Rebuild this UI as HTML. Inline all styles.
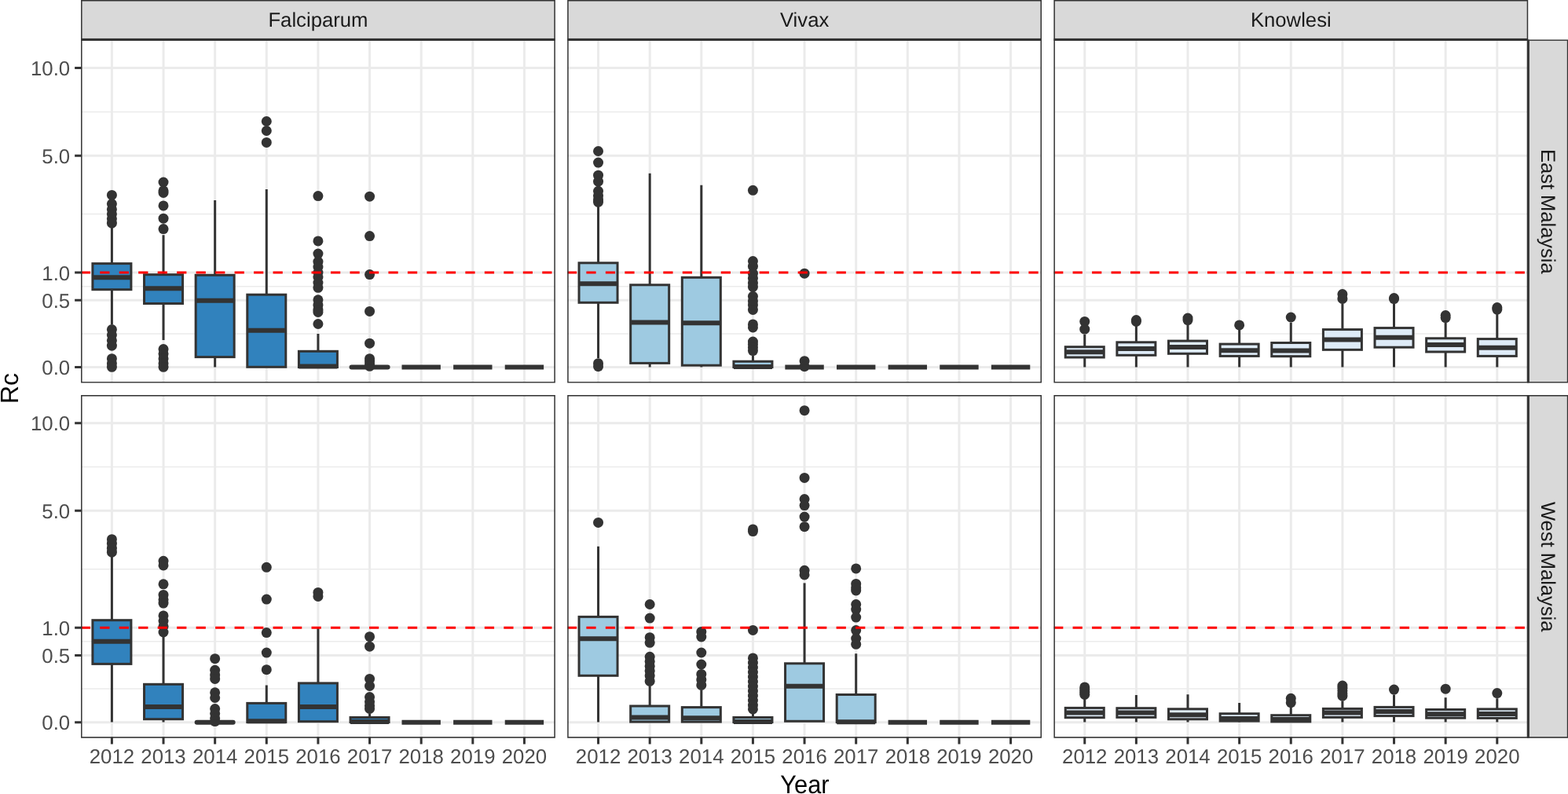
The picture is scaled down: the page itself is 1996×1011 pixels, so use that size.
<!DOCTYPE html>
<html lang="en"><head><meta charset="utf-8"><title>Rc by Year</title>
<style>
html,body{margin:0;padding:0;background:#fff;}
body{width:1996px;height:1011px;overflow:hidden;}
svg{display:block;}
text{font-family:"Liberation Sans",Arial,Helvetica,sans-serif;text-rendering:geometricPrecision;}
.ax{font-size:25.8px;fill:#4D4D4D;}
.st{font-size:25.7px;fill:#1A1A1A;}
.ti{font-size:32px;fill:#000;}
</style></head><body>
<svg width="1996" height="1011" viewBox="0 0 1996 1011">
<rect x="0" y="0" width="1996" height="1011" fill="#FFFFFF"/>
<defs>
<clipPath id="p00"><rect x="103.05" y="50.4" width="603.8" height="437.2"/></clipPath>
<clipPath id="p01"><rect x="722.2" y="50.4" width="603.8" height="437.2"/></clipPath>
<clipPath id="p02"><rect x="1341.4" y="50.4" width="603.8" height="437.2"/></clipPath>
<clipPath id="p10"><rect x="103.05" y="503.05" width="603.8" height="436.6"/></clipPath>
<clipPath id="p11"><rect x="722.2" y="503.05" width="603.8" height="436.6"/></clipPath>
<clipPath id="p12"><rect x="1341.4" y="503.05" width="603.8" height="436.6"/></clipPath>
<clipPath id="s0"><rect x="103.05" y="0" width="603.8" height="50.4"/></clipPath>
<clipPath id="s1"><rect x="722.2" y="0" width="603.8" height="50.4"/></clipPath>
<clipPath id="s2"><rect x="1341.4" y="0" width="603.8" height="50.4"/></clipPath>
<clipPath id="r0"><rect x="1945.2" y="50.4" width="51.1" height="437.2"/></clipPath>
<clipPath id="r1"><rect x="1945.2" y="503.05" width="51.1" height="436.6"/></clipPath>
</defs>
<g clip-path="url(#p00)">
<path d="M103.05 424.91H706.85M103.05 364.69H706.85M103.05 272.61H706.85M103.05 142.38H706.85" stroke="#EBEBEB" stroke-width="1.5" fill="none"/>
<path d="M103.05 467.5H706.85M103.05 382.33H706.85M103.05 347.05H706.85M103.05 198.17H706.85M103.05 86.6H706.85M142.4 50.4V487.6M208.03 50.4V487.6M273.66 50.4V487.6M339.29 50.4V487.6M404.92 50.4V487.6M470.55 50.4V487.6M536.18 50.4V487.6M601.81 50.4V487.6M667.44 50.4V487.6" stroke="#EBEBEB" stroke-width="3" fill="none"/>
<circle cx="142.4" cy="248.4" r="6.5" fill="#333333"/><circle cx="142.4" cy="259.5" r="6.5" fill="#333333"/><circle cx="142.4" cy="266.5" r="6.5" fill="#333333"/><circle cx="142.4" cy="272.5" r="6.5" fill="#333333"/><circle cx="142.4" cy="278.5" r="6.5" fill="#333333"/><circle cx="142.4" cy="284.2" r="6.5" fill="#333333"/><circle cx="142.4" cy="419.5" r="6.5" fill="#333333"/><circle cx="142.4" cy="426.5" r="6.5" fill="#333333"/><circle cx="142.4" cy="433.6" r="6.5" fill="#333333"/><circle cx="142.4" cy="440.2" r="6.5" fill="#333333"/><circle cx="142.4" cy="456.7" r="6.5" fill="#333333"/><circle cx="142.4" cy="462.7" r="6.5" fill="#333333"/><circle cx="142.4" cy="467.3" r="6.5" fill="#333333"/><path d="M142.4 284V335.6M142.4 368.7V413" stroke="#333333" stroke-width="3" fill="none"/><rect x="117.9" y="335.6" width="49" height="33.1" fill="#3182BD" stroke="#333333" stroke-width="3"/><path d="M117.9 353.25H166.9" stroke="#333333" stroke-width="6" fill="none"/>
<circle cx="208.03" cy="232" r="6.5" fill="#333333"/><circle cx="208.03" cy="242.8" r="6.5" fill="#333333"/><circle cx="208.03" cy="245.4" r="6.5" fill="#333333"/><circle cx="208.03" cy="261.9" r="6.5" fill="#333333"/><circle cx="208.03" cy="278.2" r="6.5" fill="#333333"/><circle cx="208.03" cy="291.6" r="6.5" fill="#333333"/><circle cx="208.03" cy="444.6" r="6.5" fill="#333333"/><circle cx="208.03" cy="450.6" r="6.5" fill="#333333"/><circle cx="208.03" cy="456.7" r="6.5" fill="#333333"/><circle cx="208.03" cy="462.7" r="6.5" fill="#333333"/><circle cx="208.03" cy="467.3" r="6.5" fill="#333333"/><path d="M208.03 299.2V349.7M208.03 386.5V433" stroke="#333333" stroke-width="3" fill="none"/><rect x="183.53" y="349.7" width="49" height="36.8" fill="#3182BD" stroke="#333333" stroke-width="3"/><path d="M183.53 367.3H232.53" stroke="#333333" stroke-width="6" fill="none"/>
<path d="M273.66 254.9V350.3M273.66 454.6V467.5" stroke="#333333" stroke-width="3" fill="none"/><rect x="249.16" y="350.3" width="49" height="104.3" fill="#3182BD" stroke="#333333" stroke-width="3"/><path d="M249.16 382.8H298.16" stroke="#333333" stroke-width="6" fill="none"/>
<circle cx="339.29" cy="154.5" r="6.5" fill="#333333"/><circle cx="339.29" cy="166.5" r="6.5" fill="#333333"/><circle cx="339.29" cy="181.4" r="6.5" fill="#333333"/><path d="M339.29 241V375.2M339.29 467.3V467.5" stroke="#333333" stroke-width="3" fill="none"/><rect x="314.79" y="375.2" width="49" height="92.1" fill="#3182BD" stroke="#333333" stroke-width="3"/><path d="M314.79 420.7H363.79" stroke="#333333" stroke-width="6" fill="none"/>
<circle cx="404.92" cy="249.6" r="6.5" fill="#333333"/><circle cx="404.92" cy="306.9" r="6.5" fill="#333333"/><circle cx="404.92" cy="323.1" r="6.5" fill="#333333"/><circle cx="404.92" cy="333.2" r="6.5" fill="#333333"/><circle cx="404.92" cy="340" r="6.5" fill="#333333"/><circle cx="404.92" cy="347" r="6.5" fill="#333333"/><circle cx="404.92" cy="353" r="6.5" fill="#333333"/><circle cx="404.92" cy="360" r="6.5" fill="#333333"/><circle cx="404.92" cy="366.3" r="6.5" fill="#333333"/><circle cx="404.92" cy="381.8" r="6.5" fill="#333333"/><circle cx="404.92" cy="388.4" r="6.5" fill="#333333"/><circle cx="404.92" cy="394.4" r="6.5" fill="#333333"/><circle cx="404.92" cy="397.4" r="6.5" fill="#333333"/><circle cx="404.92" cy="412.5" r="6.5" fill="#333333"/><path d="M404.92 424.9V447.3" stroke="#333333" stroke-width="3" fill="none"/><rect x="380.42" y="447.3" width="49" height="20.2" fill="#3182BD" stroke="#333333" stroke-width="3"/><path d="M380.42 466.5H429.42" stroke="#333333" stroke-width="6" fill="none"/>
<circle cx="470.55" cy="250.2" r="6.5" fill="#333333"/><circle cx="470.55" cy="300.6" r="6.5" fill="#333333"/><circle cx="470.55" cy="349.6" r="6.5" fill="#333333"/><circle cx="470.55" cy="396.4" r="6.5" fill="#333333"/><circle cx="470.55" cy="437.2" r="6.5" fill="#333333"/><circle cx="470.55" cy="456.7" r="6.5" fill="#333333"/><circle cx="470.55" cy="459.8" r="6.5" fill="#333333"/><circle cx="470.55" cy="462.9" r="6.5" fill="#333333"/><circle cx="470.55" cy="466.3" r="6.5" fill="#333333"/><path d="M447.55 467.5H493.55" stroke="#333333" stroke-width="6" stroke-linecap="round" fill="none"/>
<path d="M511.48 467.5H560.88" stroke="#333333" stroke-width="6" fill="none"/>
<path d="M577.11 467.5H626.51" stroke="#333333" stroke-width="6" fill="none"/>
<path d="M642.74 467.5H692.14" stroke="#333333" stroke-width="6" fill="none"/>
<path d="M103.05 347.05H706.85" stroke="#FF0000" stroke-width="3.1" stroke-dasharray="12.24 12.24" stroke-dashoffset="0.3" fill="none"/>
<rect x="103.05" y="50.4" width="603.8" height="437.2" fill="none" stroke="#333333" stroke-width="3"/>
</g>
<g clip-path="url(#p01)">
<path d="M722.2 424.91H1326M722.2 364.69H1326M722.2 272.61H1326M722.2 142.38H1326" stroke="#EBEBEB" stroke-width="1.5" fill="none"/>
<path d="M722.2 467.5H1326M722.2 382.33H1326M722.2 347.05H1326M722.2 198.17H1326M722.2 86.6H1326M761.55 50.4V487.6M827.18 50.4V487.6M892.81 50.4V487.6M958.44 50.4V487.6M1024.07 50.4V487.6M1089.7 50.4V487.6M1155.33 50.4V487.6M1220.96 50.4V487.6M1286.59 50.4V487.6" stroke="#EBEBEB" stroke-width="3" fill="none"/>
<circle cx="761.55" cy="192.5" r="6.5" fill="#333333"/><circle cx="761.55" cy="207.1" r="6.5" fill="#333333"/><circle cx="761.55" cy="223.2" r="6.5" fill="#333333"/><circle cx="761.55" cy="231.2" r="6.5" fill="#333333"/><circle cx="761.55" cy="243.3" r="6.5" fill="#333333"/><circle cx="761.55" cy="249.3" r="6.5" fill="#333333"/><circle cx="761.55" cy="254.3" r="6.5" fill="#333333"/><circle cx="761.55" cy="257.3" r="6.5" fill="#333333"/><circle cx="761.55" cy="462.7" r="6.5" fill="#333333"/><circle cx="761.55" cy="466.7" r="6.5" fill="#333333"/><path d="M761.55 257V334.8M761.55 385.3V456" stroke="#333333" stroke-width="3" fill="none"/><rect x="737.05" y="334.8" width="49" height="50.5" fill="#9ECAE1" stroke="#333333" stroke-width="3"/><path d="M737.05 361.3H786.05" stroke="#333333" stroke-width="6" fill="none"/>
<path d="M827.18 220.8V362.8M827.18 462.4V467.5" stroke="#333333" stroke-width="3" fill="none"/><rect x="802.68" y="362.8" width="49" height="99.6" fill="#9ECAE1" stroke="#333333" stroke-width="3"/><path d="M802.68 410.5H851.68" stroke="#333333" stroke-width="6" fill="none"/>
<path d="M892.81 235.7V353.3M892.81 465.2V467.5" stroke="#333333" stroke-width="3" fill="none"/><rect x="868.31" y="353.3" width="49" height="111.9" fill="#9ECAE1" stroke="#333333" stroke-width="3"/><path d="M868.31 411.3H917.31" stroke="#333333" stroke-width="6" fill="none"/>
<circle cx="958.44" cy="242.3" r="6.5" fill="#333333"/><circle cx="958.44" cy="332.6" r="6.5" fill="#333333"/><circle cx="958.44" cy="339.2" r="6.5" fill="#333333"/><circle cx="958.44" cy="348.2" r="6.5" fill="#333333"/><circle cx="958.44" cy="354.3" r="6.5" fill="#333333"/><circle cx="958.44" cy="360.3" r="6.5" fill="#333333"/><circle cx="958.44" cy="365.3" r="6.5" fill="#333333"/><circle cx="958.44" cy="377.3" r="6.5" fill="#333333"/><circle cx="958.44" cy="383.4" r="6.5" fill="#333333"/><circle cx="958.44" cy="388.4" r="6.5" fill="#333333"/><circle cx="958.44" cy="394.4" r="6.5" fill="#333333"/><circle cx="958.44" cy="412.9" r="6.5" fill="#333333"/><circle cx="958.44" cy="416.9" r="6.5" fill="#333333"/><circle cx="958.44" cy="435" r="6.5" fill="#333333"/><circle cx="958.44" cy="438.6" r="6.5" fill="#333333"/><circle cx="958.44" cy="442.6" r="6.5" fill="#333333"/><circle cx="958.44" cy="446.6" r="6.5" fill="#333333"/><path d="M958.44 453V460.2" stroke="#333333" stroke-width="3" fill="none"/><rect x="933.94" y="460.2" width="49" height="7.3" fill="#9ECAE1" stroke="#333333" stroke-width="3"/><path d="M933.94 467H982.94" stroke="#333333" stroke-width="6" fill="none"/>
<circle cx="1024.07" cy="348.2" r="6.5" fill="#333333"/><circle cx="1024.07" cy="459.7" r="6.5" fill="#333333"/><circle cx="1024.07" cy="466.7" r="6.5" fill="#333333"/><path d="M999.37 467.5H1048.77" stroke="#333333" stroke-width="6" fill="none"/>
<path d="M1065 467.5H1114.4" stroke="#333333" stroke-width="6" fill="none"/>
<path d="M1130.63 467.5H1180.03" stroke="#333333" stroke-width="6" fill="none"/>
<path d="M1196.26 467.5H1245.66" stroke="#333333" stroke-width="6" fill="none"/>
<path d="M1261.89 467.5H1311.29" stroke="#333333" stroke-width="6" fill="none"/>
<path d="M722.2 347.05H1326" stroke="#FF0000" stroke-width="3.1" stroke-dasharray="12.24 12.24" stroke-dashoffset="0.3" fill="none"/>
<rect x="722.2" y="50.4" width="603.8" height="437.2" fill="none" stroke="#333333" stroke-width="3"/>
</g>
<g clip-path="url(#p02)">
<path d="M1341.4 424.91H1945.2M1341.4 364.69H1945.2M1341.4 272.61H1945.2M1341.4 142.38H1945.2" stroke="#EBEBEB" stroke-width="1.5" fill="none"/>
<path d="M1341.4 467.5H1945.2M1341.4 382.33H1945.2M1341.4 347.05H1945.2M1341.4 198.17H1945.2M1341.4 86.6H1945.2M1380.75 50.4V487.6M1446.38 50.4V487.6M1512.01 50.4V487.6M1577.64 50.4V487.6M1643.27 50.4V487.6M1708.9 50.4V487.6M1774.53 50.4V487.6M1840.16 50.4V487.6M1905.79 50.4V487.6" stroke="#EBEBEB" stroke-width="3" fill="none"/>
<circle cx="1380.75" cy="409.4" r="6.5" fill="#333333"/><circle cx="1380.75" cy="419.2" r="6.5" fill="#333333"/><path d="M1380.75 426V441.7M1380.75 455V467.4" stroke="#333333" stroke-width="3" fill="none"/><rect x="1356.25" y="441.7" width="49" height="13.3" fill="#DEEBF7" stroke="#333333" stroke-width="3"/><path d="M1356.25 448.2H1405.25" stroke="#333333" stroke-width="6" fill="none"/>
<circle cx="1446.38" cy="407.5" r="6.5" fill="#333333"/><circle cx="1446.38" cy="409.3" r="6.5" fill="#333333"/><path d="M1446.38 415V435.8M1446.38 452.3V467.4" stroke="#333333" stroke-width="3" fill="none"/><rect x="1421.88" y="435.8" width="49" height="16.5" fill="#DEEBF7" stroke="#333333" stroke-width="3"/><path d="M1421.88 444.05H1470.88" stroke="#333333" stroke-width="6" fill="none"/>
<circle cx="1512.01" cy="405.1" r="6.5" fill="#333333"/><circle cx="1512.01" cy="407.6" r="6.5" fill="#333333"/><path d="M1512.01 413V434.1M1512.01 450.3V467.4" stroke="#333333" stroke-width="3" fill="none"/><rect x="1487.51" y="434.1" width="49" height="16.2" fill="#DEEBF7" stroke="#333333" stroke-width="3"/><path d="M1487.51 442H1536.51" stroke="#333333" stroke-width="6" fill="none"/>
<circle cx="1577.64" cy="413.9" r="6.5" fill="#333333"/><path d="M1577.64 420V438.1M1577.64 453.4V467.4" stroke="#333333" stroke-width="3" fill="none"/><rect x="1553.14" y="438.1" width="49" height="15.3" fill="#DEEBF7" stroke="#333333" stroke-width="3"/><path d="M1553.14 446.2H1602.14" stroke="#333333" stroke-width="6" fill="none"/>
<circle cx="1643.27" cy="404" r="6.5" fill="#333333"/><path d="M1643.27 410.7V436.5M1643.27 453.7V467.4" stroke="#333333" stroke-width="3" fill="none"/><rect x="1618.77" y="436.5" width="49" height="17.2" fill="#DEEBF7" stroke="#333333" stroke-width="3"/><path d="M1618.77 446.4H1667.77" stroke="#333333" stroke-width="6" fill="none"/>
<circle cx="1708.9" cy="374.5" r="6.5" fill="#333333"/><circle cx="1708.9" cy="380.4" r="6.5" fill="#333333"/><path d="M1708.9 386.6V419.6M1708.9 445.35V467.4" stroke="#333333" stroke-width="3" fill="none"/><rect x="1684.4" y="419.6" width="49" height="25.75" fill="#DEEBF7" stroke="#333333" stroke-width="3"/><path d="M1684.4 432.4H1733.4" stroke="#333333" stroke-width="6" fill="none"/>
<circle cx="1774.53" cy="379.6" r="6.5" fill="#333333"/><circle cx="1774.53" cy="380.6" r="6.5" fill="#333333"/><path d="M1774.53 386.6V417.6M1774.53 442.2V467.4" stroke="#333333" stroke-width="3" fill="none"/><rect x="1750.03" y="417.6" width="49" height="24.6" fill="#DEEBF7" stroke="#333333" stroke-width="3"/><path d="M1750.03 429.8H1799.03" stroke="#333333" stroke-width="6" fill="none"/>
<circle cx="1840.16" cy="401.6" r="6.5" fill="#333333"/><circle cx="1840.16" cy="404.6" r="6.5" fill="#333333"/><path d="M1840.16 410.7V430.8M1840.16 448V467.4" stroke="#333333" stroke-width="3" fill="none"/><rect x="1815.66" y="430.8" width="49" height="17.2" fill="#DEEBF7" stroke="#333333" stroke-width="3"/><path d="M1815.66 439.1H1864.66" stroke="#333333" stroke-width="6" fill="none"/>
<circle cx="1905.79" cy="391.5" r="6.5" fill="#333333"/><circle cx="1905.79" cy="394.1" r="6.5" fill="#333333"/><path d="M1905.79 399.8V431.6M1905.79 453.4V467.4" stroke="#333333" stroke-width="3" fill="none"/><rect x="1881.29" y="431.6" width="49" height="21.8" fill="#DEEBF7" stroke="#333333" stroke-width="3"/><path d="M1881.29 442.8H1930.29" stroke="#333333" stroke-width="6" fill="none"/>
<path d="M1341.4 347.05H1945.2" stroke="#FF0000" stroke-width="3.1" stroke-dasharray="12.24 12.24" stroke-dashoffset="0.3" fill="none"/>
<rect x="1341.4" y="50.4" width="603.8" height="437.2" fill="none" stroke="#333333" stroke-width="3"/>
</g>
<g clip-path="url(#p10)">
<path d="M103.05 877.06H706.85M103.05 816.84H706.85M103.05 724.76H706.85M103.05 594.53H706.85" stroke="#EBEBEB" stroke-width="1.5" fill="none"/>
<path d="M103.05 919.65H706.85M103.05 834.48H706.85M103.05 799.2H706.85M103.05 650.32H706.85M103.05 538.75H706.85M142.4 503.05V939.65M208.03 503.05V939.65M273.66 503.05V939.65M339.29 503.05V939.65M404.92 503.05V939.65M470.55 503.05V939.65M536.18 503.05V939.65M601.81 503.05V939.65M667.44 503.05V939.65" stroke="#EBEBEB" stroke-width="3" fill="none"/>
<circle cx="142.4" cy="686.7" r="6.5" fill="#333333"/><circle cx="142.4" cy="692.2" r="6.5" fill="#333333"/><circle cx="142.4" cy="698.2" r="6.5" fill="#333333"/><circle cx="142.4" cy="703.2" r="6.5" fill="#333333"/><path d="M142.4 703V789.7M142.4 845.4V919.4" stroke="#333333" stroke-width="3" fill="none"/><rect x="117.9" y="789.7" width="49" height="55.7" fill="#3182BD" stroke="#333333" stroke-width="3"/><path d="M117.9 816.8H166.9" stroke="#333333" stroke-width="6" fill="none"/>
<circle cx="208.03" cy="714.3" r="6.5" fill="#333333"/><circle cx="208.03" cy="719.9" r="6.5" fill="#333333"/><circle cx="208.03" cy="743.8" r="6.5" fill="#333333"/><circle cx="208.03" cy="757.4" r="6.5" fill="#333333"/><circle cx="208.03" cy="763.5" r="6.5" fill="#333333"/><circle cx="208.03" cy="768.1" r="6.5" fill="#333333"/><circle cx="208.03" cy="783.9" r="6.5" fill="#333333"/><circle cx="208.03" cy="790.6" r="6.5" fill="#333333"/><circle cx="208.03" cy="797.6" r="6.5" fill="#333333"/><circle cx="208.03" cy="805" r="6.5" fill="#333333"/><path d="M208.03 805V871.3M208.03 915.7V919.4" stroke="#333333" stroke-width="3" fill="none"/><rect x="183.53" y="871.3" width="49" height="44.4" fill="#3182BD" stroke="#333333" stroke-width="3"/><path d="M183.53 899.9H232.53" stroke="#333333" stroke-width="6" fill="none"/>
<circle cx="273.66" cy="838.7" r="6.5" fill="#333333"/><circle cx="273.66" cy="853.3" r="6.5" fill="#333333"/><circle cx="273.66" cy="859.4" r="6.5" fill="#333333"/><circle cx="273.66" cy="864.4" r="6.5" fill="#333333"/><circle cx="273.66" cy="881.8" r="6.5" fill="#333333"/><circle cx="273.66" cy="888.5" r="6.5" fill="#333333"/><circle cx="273.66" cy="902.5" r="6.5" fill="#333333"/><circle cx="273.66" cy="908.6" r="6.5" fill="#333333"/><circle cx="273.66" cy="914.6" r="6.5" fill="#333333"/><circle cx="273.66" cy="918.6" r="6.5" fill="#333333"/><path d="M250.66 919.65H296.66" stroke="#333333" stroke-width="6" stroke-linecap="round" fill="none"/>
<circle cx="339.29" cy="722.3" r="6.5" fill="#333333"/><circle cx="339.29" cy="763.05" r="6.5" fill="#333333"/><circle cx="339.29" cy="805.6" r="6.5" fill="#333333"/><circle cx="339.29" cy="831.1" r="6.5" fill="#333333"/><circle cx="339.29" cy="852.7" r="6.5" fill="#333333"/><path d="M339.29 872.4V895.4" stroke="#333333" stroke-width="3" fill="none"/><rect x="314.79" y="895.4" width="49" height="24.2" fill="#3182BD" stroke="#333333" stroke-width="3"/><path d="M314.79 918.3H363.79" stroke="#333333" stroke-width="6" fill="none"/>
<circle cx="404.92" cy="754.4" r="6.5" fill="#333333"/><circle cx="404.92" cy="759.4" r="6.5" fill="#333333"/><path d="M404.92 799.4V869.9" stroke="#333333" stroke-width="3" fill="none"/><rect x="380.42" y="869.9" width="49" height="48.8" fill="#3182BD" stroke="#333333" stroke-width="3"/><path d="M380.42 900.1H429.42" stroke="#333333" stroke-width="6" fill="none"/>
<circle cx="470.55" cy="810.7" r="6.5" fill="#333333"/><circle cx="470.55" cy="823.2" r="6.5" fill="#333333"/><circle cx="470.55" cy="864.4" r="6.5" fill="#333333"/><circle cx="470.55" cy="873.4" r="6.5" fill="#333333"/><circle cx="470.55" cy="887.5" r="6.5" fill="#333333"/><circle cx="470.55" cy="893.5" r="6.5" fill="#333333"/><circle cx="470.55" cy="898.5" r="6.5" fill="#333333"/><circle cx="470.55" cy="902.5" r="6.5" fill="#333333"/><path d="M470.55 908.5V913.5" stroke="#333333" stroke-width="3" fill="none"/><rect x="446.05" y="913.5" width="49" height="6.1" fill="#3182BD" stroke="#333333" stroke-width="3"/><path d="M446.05 919H495.05" stroke="#333333" stroke-width="6" fill="none"/>
<path d="M511.48 919.65H560.88" stroke="#333333" stroke-width="6" fill="none"/>
<path d="M577.11 919.65H626.51" stroke="#333333" stroke-width="6" fill="none"/>
<path d="M642.74 919.65H692.14" stroke="#333333" stroke-width="6" fill="none"/>
<path d="M103.05 799.2H706.85" stroke="#FF0000" stroke-width="3.1" stroke-dasharray="12.24 12.24" stroke-dashoffset="0.3" fill="none"/>
<rect x="103.05" y="503.05" width="603.8" height="436.6" fill="none" stroke="#333333" stroke-width="3"/>
</g>
<g clip-path="url(#p11)">
<path d="M722.2 877.06H1326M722.2 816.84H1326M722.2 724.76H1326M722.2 594.53H1326" stroke="#EBEBEB" stroke-width="1.5" fill="none"/>
<path d="M722.2 919.65H1326M722.2 834.48H1326M722.2 799.2H1326M722.2 650.32H1326M722.2 538.75H1326M761.55 503.05V939.65M827.18 503.05V939.65M892.81 503.05V939.65M958.44 503.05V939.65M1024.07 503.05V939.65M1089.7 503.05V939.65M1155.33 503.05V939.65M1220.96 503.05V939.65M1286.59 503.05V939.65" stroke="#EBEBEB" stroke-width="3" fill="none"/>
<circle cx="761.55" cy="665.4" r="6.5" fill="#333333"/><path d="M761.55 695.8V785.4M761.55 860.3V919.4" stroke="#333333" stroke-width="3" fill="none"/><rect x="737.05" y="785.4" width="49" height="74.9" fill="#9ECAE1" stroke="#333333" stroke-width="3"/><path d="M737.05 813.2H786.05" stroke="#333333" stroke-width="6" fill="none"/>
<circle cx="827.18" cy="769.5" r="6.5" fill="#333333"/><circle cx="827.18" cy="787.1" r="6.5" fill="#333333"/><circle cx="827.18" cy="811.7" r="6.5" fill="#333333"/><circle cx="827.18" cy="818.3" r="6.5" fill="#333333"/><circle cx="827.18" cy="836.3" r="6.5" fill="#333333"/><circle cx="827.18" cy="842.3" r="6.5" fill="#333333"/><circle cx="827.18" cy="848.3" r="6.5" fill="#333333"/><circle cx="827.18" cy="854.3" r="6.5" fill="#333333"/><circle cx="827.18" cy="860.4" r="6.5" fill="#333333"/><circle cx="827.18" cy="867.4" r="6.5" fill="#333333"/><path d="M827.18 873.4V899" stroke="#333333" stroke-width="3" fill="none"/><rect x="802.68" y="899" width="49" height="20.1" fill="#9ECAE1" stroke="#333333" stroke-width="3"/><path d="M802.68 913.6H851.68" stroke="#333333" stroke-width="6" fill="none"/>
<circle cx="892.81" cy="804.4" r="6.5" fill="#333333"/><circle cx="892.81" cy="811" r="6.5" fill="#333333"/><circle cx="892.81" cy="831" r="6.5" fill="#333333"/><circle cx="892.81" cy="846" r="6.5" fill="#333333"/><circle cx="892.81" cy="858.4" r="6.5" fill="#333333"/><circle cx="892.81" cy="865.4" r="6.5" fill="#333333"/><circle cx="892.81" cy="872.4" r="6.5" fill="#333333"/><path d="M892.81 878.4V900.6" stroke="#333333" stroke-width="3" fill="none"/><rect x="868.31" y="900.6" width="49" height="18.5" fill="#9ECAE1" stroke="#333333" stroke-width="3"/><path d="M868.31 914.2H917.31" stroke="#333333" stroke-width="6" fill="none"/>
<circle cx="958.44" cy="673.9" r="6.5" fill="#333333"/><circle cx="958.44" cy="676.6" r="6.5" fill="#333333"/><circle cx="958.44" cy="802.4" r="6.5" fill="#333333"/><circle cx="958.44" cy="837.9" r="6.5" fill="#333333"/><circle cx="958.44" cy="844" r="6.5" fill="#333333"/><circle cx="958.44" cy="850" r="6.5" fill="#333333"/><circle cx="958.44" cy="856" r="6.5" fill="#333333"/><circle cx="958.44" cy="862" r="6.5" fill="#333333"/><circle cx="958.44" cy="868" r="6.5" fill="#333333"/><circle cx="958.44" cy="874" r="6.5" fill="#333333"/><circle cx="958.44" cy="880" r="6.5" fill="#333333"/><circle cx="958.44" cy="886" r="6.5" fill="#333333"/><circle cx="958.44" cy="892" r="6.5" fill="#333333"/><circle cx="958.44" cy="898" r="6.5" fill="#333333"/><circle cx="958.44" cy="902.9" r="6.5" fill="#333333"/><path d="M958.44 905V913.5" stroke="#333333" stroke-width="3" fill="none"/><rect x="933.94" y="913.5" width="49" height="6.1" fill="#9ECAE1" stroke="#333333" stroke-width="3"/><path d="M933.94 919H982.94" stroke="#333333" stroke-width="6" fill="none"/>
<circle cx="1024.07" cy="522.7" r="6.5" fill="#333333"/><circle cx="1024.07" cy="608.4" r="6.5" fill="#333333"/><circle cx="1024.07" cy="635.5" r="6.5" fill="#333333"/><circle cx="1024.07" cy="643.6" r="6.5" fill="#333333"/><circle cx="1024.07" cy="658.1" r="6.5" fill="#333333"/><circle cx="1024.07" cy="670.7" r="6.5" fill="#333333"/><circle cx="1024.07" cy="726.3" r="6.5" fill="#333333"/><circle cx="1024.07" cy="731.9" r="6.5" fill="#333333"/><path d="M1024.07 742.4V844.8" stroke="#333333" stroke-width="3" fill="none"/><rect x="999.57" y="844.8" width="49" height="73.5" fill="#9ECAE1" stroke="#333333" stroke-width="3"/><path d="M999.57 873.8H1048.57" stroke="#333333" stroke-width="6" fill="none"/>
<circle cx="1089.7" cy="723.9" r="6.5" fill="#333333"/><circle cx="1089.7" cy="743.4" r="6.5" fill="#333333"/><circle cx="1089.7" cy="748.4" r="6.5" fill="#333333"/><circle cx="1089.7" cy="752" r="6.5" fill="#333333"/><circle cx="1089.7" cy="769.5" r="6.5" fill="#333333"/><circle cx="1089.7" cy="776.1" r="6.5" fill="#333333"/><circle cx="1089.7" cy="786.1" r="6.5" fill="#333333"/><circle cx="1089.7" cy="802.6" r="6.5" fill="#333333"/><circle cx="1089.7" cy="813" r="6.5" fill="#333333"/><circle cx="1089.7" cy="820.3" r="6.5" fill="#333333"/><path d="M1089.7 832.2V884.5" stroke="#333333" stroke-width="3" fill="none"/><rect x="1065.2" y="884.5" width="49" height="35.1" fill="#9ECAE1" stroke="#333333" stroke-width="3"/><path d="M1065.2 919.2H1114.2" stroke="#333333" stroke-width="6" fill="none"/>
<path d="M1130.63 919.65H1180.03" stroke="#333333" stroke-width="6" fill="none"/>
<path d="M1196.26 919.65H1245.66" stroke="#333333" stroke-width="6" fill="none"/>
<path d="M1261.89 919.65H1311.29" stroke="#333333" stroke-width="6" fill="none"/>
<path d="M722.2 799.2H1326" stroke="#FF0000" stroke-width="3.1" stroke-dasharray="12.24 12.24" stroke-dashoffset="0.3" fill="none"/>
<rect x="722.2" y="503.05" width="603.8" height="436.6" fill="none" stroke="#333333" stroke-width="3"/>
</g>
<g clip-path="url(#p12)">
<path d="M1341.4 877.06H1945.2M1341.4 816.84H1945.2M1341.4 724.76H1945.2M1341.4 594.53H1945.2" stroke="#EBEBEB" stroke-width="1.5" fill="none"/>
<path d="M1341.4 919.65H1945.2M1341.4 834.48H1945.2M1341.4 799.2H1945.2M1341.4 650.32H1945.2M1341.4 538.75H1945.2M1380.75 503.05V939.65M1446.38 503.05V939.65M1512.01 503.05V939.65M1577.64 503.05V939.65M1643.27 503.05V939.65M1708.9 503.05V939.65M1774.53 503.05V939.65M1840.16 503.05V939.65M1905.79 503.05V939.65" stroke="#EBEBEB" stroke-width="3" fill="none"/>
<circle cx="1380.75" cy="874.9" r="6.5" fill="#333333"/><circle cx="1380.75" cy="878" r="6.5" fill="#333333"/><circle cx="1380.75" cy="881.2" r="6.5" fill="#333333"/><circle cx="1380.75" cy="884.3" r="6.5" fill="#333333"/><path d="M1380.75 889.3V901.4M1380.75 913.7V919.6" stroke="#333333" stroke-width="3" fill="none"/><rect x="1356.25" y="901.4" width="49" height="12.3" fill="#DEEBF7" stroke="#333333" stroke-width="3"/><path d="M1356.25 907.6H1405.25" stroke="#333333" stroke-width="6" fill="none"/>
<path d="M1446.38 885.1V901.7M1446.38 913.4V919.6" stroke="#333333" stroke-width="3" fill="none"/><rect x="1421.88" y="901.7" width="49" height="11.7" fill="#DEEBF7" stroke="#333333" stroke-width="3"/><path d="M1421.88 907.6H1470.88" stroke="#333333" stroke-width="6" fill="none"/>
<path d="M1512.01 884.3V902.8M1512.01 915.8V919.6" stroke="#333333" stroke-width="3" fill="none"/><rect x="1487.51" y="902.8" width="49" height="13" fill="#DEEBF7" stroke="#333333" stroke-width="3"/><path d="M1487.51 910.3H1536.51" stroke="#333333" stroke-width="6" fill="none"/>
<path d="M1577.64 895V908.7M1577.64 918.1V919.6" stroke="#333333" stroke-width="3" fill="none"/><rect x="1553.14" y="908.7" width="49" height="9.4" fill="#DEEBF7" stroke="#333333" stroke-width="3"/><path d="M1553.14 914.9H1602.14" stroke="#333333" stroke-width="6" fill="none"/>
<circle cx="1643.27" cy="889.3" r="6.5" fill="#333333"/><circle cx="1643.27" cy="894.7" r="6.5" fill="#333333"/><path d="M1643.27 901V910.7M1643.27 918.9V919.6" stroke="#333333" stroke-width="3" fill="none"/><rect x="1618.77" y="910.7" width="49" height="8.2" fill="#DEEBF7" stroke="#333333" stroke-width="3"/><path d="M1618.77 916H1667.77" stroke="#333333" stroke-width="6" fill="none"/>
<circle cx="1708.9" cy="873" r="6.5" fill="#333333"/><circle cx="1708.9" cy="876.2" r="6.5" fill="#333333"/><circle cx="1708.9" cy="879.5" r="6.5" fill="#333333"/><circle cx="1708.9" cy="882.8" r="6.5" fill="#333333"/><circle cx="1708.9" cy="886.2" r="6.5" fill="#333333"/><path d="M1708.9 892.4V902.4M1708.9 913.4V919.6" stroke="#333333" stroke-width="3" fill="none"/><rect x="1684.4" y="902.4" width="49" height="11" fill="#DEEBF7" stroke="#333333" stroke-width="3"/><path d="M1684.4 907.6H1733.4" stroke="#333333" stroke-width="6" fill="none"/>
<circle cx="1774.53" cy="878.1" r="6.5" fill="#333333"/><path d="M1774.53 884.6V900.4M1774.53 911.6V919.6" stroke="#333333" stroke-width="3" fill="none"/><rect x="1750.03" y="900.4" width="49" height="11.2" fill="#DEEBF7" stroke="#333333" stroke-width="3"/><path d="M1750.03 905.9H1799.03" stroke="#333333" stroke-width="6" fill="none"/>
<circle cx="1840.16" cy="877.2" r="6.5" fill="#333333"/><path d="M1840.16 888.2V903.5M1840.16 914.2V919.6" stroke="#333333" stroke-width="3" fill="none"/><rect x="1815.66" y="903.5" width="49" height="10.7" fill="#DEEBF7" stroke="#333333" stroke-width="3"/><path d="M1815.66 909.2H1864.66" stroke="#333333" stroke-width="6" fill="none"/>
<circle cx="1905.79" cy="882.6" r="6.5" fill="#333333"/><path d="M1905.79 889.3V902.9M1905.79 914.4V919.6" stroke="#333333" stroke-width="3" fill="none"/><rect x="1881.29" y="902.9" width="49" height="11.5" fill="#DEEBF7" stroke="#333333" stroke-width="3"/><path d="M1881.29 909H1930.29" stroke="#333333" stroke-width="6" fill="none"/>
<path d="M1341.4 799.2H1945.2" stroke="#FF0000" stroke-width="3.1" stroke-dasharray="12.24 12.24" stroke-dashoffset="0.3" fill="none"/>
<rect x="1341.4" y="503.05" width="603.8" height="436.6" fill="none" stroke="#333333" stroke-width="3"/>
</g>
<g clip-path="url(#s0)"><rect x="103.05" y="0" width="603.8" height="50.4" fill="#D9D9D9" stroke="#333333" stroke-width="3"/></g>
<path d="M103.05 50.45H706.85" stroke="#333333" stroke-width="2.6" fill="none"/>
<text class="st" x="404.95" y="34.15" text-anchor="middle">Falciparum</text>
<g clip-path="url(#s1)"><rect x="722.2" y="0" width="603.8" height="50.4" fill="#D9D9D9" stroke="#333333" stroke-width="3"/></g>
<path d="M722.2 50.45H1326" stroke="#333333" stroke-width="2.6" fill="none"/>
<text class="st" x="1024.1" y="34.15" text-anchor="middle">Vivax</text>
<g clip-path="url(#s2)"><rect x="1341.4" y="0" width="603.8" height="50.4" fill="#D9D9D9" stroke="#333333" stroke-width="3"/></g>
<path d="M1341.4 50.45H1945.2" stroke="#333333" stroke-width="2.6" fill="none"/>
<text class="st" x="1643.3" y="34.15" text-anchor="middle">Knowlesi</text>
<g clip-path="url(#r0)"><rect x="1945.2" y="50.4" width="51.1" height="437.2" fill="#D9D9D9" stroke="#333333" stroke-width="3"/></g>
<path d="M1945.3 50.4V487.6" stroke="#333333" stroke-width="2.6" fill="none"/>
<text class="st" style="font-size:25.5px" transform="translate(1961.8 269.3) rotate(90)" text-anchor="middle">East Malaysia</text>
<g clip-path="url(#r1)"><rect x="1945.2" y="503.05" width="51.1" height="436.6" fill="#D9D9D9" stroke="#333333" stroke-width="3"/></g>
<path d="M1945.3 503.05V939.65" stroke="#333333" stroke-width="2.6" fill="none"/>
<text class="st" style="font-size:25.5px" transform="translate(1961.8 721.65) rotate(90)" text-anchor="middle">West Malaysia</text>
<text class="ax" x="89.2" y="477.1" text-anchor="end">0.0</text>
<text class="ax" x="89.2" y="391.93" text-anchor="end">0.5</text>
<text class="ax" x="89.2" y="356.65" text-anchor="end">1.0</text>
<text class="ax" x="89.2" y="207.77" text-anchor="end">5.0</text>
<text class="ax" x="89.2" y="96.2" text-anchor="end">10.0</text>
<path d="M95.15 467.5H103.85M95.15 382.33H103.85M95.15 347.05H103.85M95.15 198.17H103.85M95.15 86.6H103.85" stroke="#333333" stroke-width="3" fill="none"/>
<text class="ax" x="89.2" y="929.25" text-anchor="end">0.0</text>
<text class="ax" x="89.2" y="844.08" text-anchor="end">0.5</text>
<text class="ax" x="89.2" y="808.8" text-anchor="end">1.0</text>
<text class="ax" x="89.2" y="659.92" text-anchor="end">5.0</text>
<text class="ax" x="89.2" y="548.35" text-anchor="end">10.0</text>
<path d="M95.15 919.65H103.85M95.15 834.48H103.85M95.15 799.2H103.85M95.15 650.32H103.85M95.15 538.75H103.85" stroke="#333333" stroke-width="3" fill="none"/>
<text class="ax" x="142.4" y="972.4" text-anchor="middle">2012</text>
<text class="ax" x="208.03" y="972.4" text-anchor="middle">2013</text>
<text class="ax" x="273.66" y="972.4" text-anchor="middle">2014</text>
<text class="ax" x="339.29" y="972.4" text-anchor="middle">2015</text>
<text class="ax" x="404.92" y="972.4" text-anchor="middle">2016</text>
<text class="ax" x="470.55" y="972.4" text-anchor="middle">2017</text>
<text class="ax" x="536.18" y="972.4" text-anchor="middle">2018</text>
<text class="ax" x="601.81" y="972.4" text-anchor="middle">2019</text>
<text class="ax" x="667.44" y="972.4" text-anchor="middle">2020</text>
<path d="M142.4 938.85V947.55M208.03 938.85V947.55M273.66 938.85V947.55M339.29 938.85V947.55M404.92 938.85V947.55M470.55 938.85V947.55M536.18 938.85V947.55M601.81 938.85V947.55M667.44 938.85V947.55" stroke="#333333" stroke-width="3" fill="none"/>
<text class="ax" x="761.55" y="972.4" text-anchor="middle">2012</text>
<text class="ax" x="827.18" y="972.4" text-anchor="middle">2013</text>
<text class="ax" x="892.81" y="972.4" text-anchor="middle">2014</text>
<text class="ax" x="958.44" y="972.4" text-anchor="middle">2015</text>
<text class="ax" x="1024.07" y="972.4" text-anchor="middle">2016</text>
<text class="ax" x="1089.7" y="972.4" text-anchor="middle">2017</text>
<text class="ax" x="1155.33" y="972.4" text-anchor="middle">2018</text>
<text class="ax" x="1220.96" y="972.4" text-anchor="middle">2019</text>
<text class="ax" x="1286.59" y="972.4" text-anchor="middle">2020</text>
<path d="M761.55 938.85V947.55M827.18 938.85V947.55M892.81 938.85V947.55M958.44 938.85V947.55M1024.07 938.85V947.55M1089.7 938.85V947.55M1155.33 938.85V947.55M1220.96 938.85V947.55M1286.59 938.85V947.55" stroke="#333333" stroke-width="3" fill="none"/>
<text class="ax" x="1380.75" y="972.4" text-anchor="middle">2012</text>
<text class="ax" x="1446.38" y="972.4" text-anchor="middle">2013</text>
<text class="ax" x="1512.01" y="972.4" text-anchor="middle">2014</text>
<text class="ax" x="1577.64" y="972.4" text-anchor="middle">2015</text>
<text class="ax" x="1643.27" y="972.4" text-anchor="middle">2016</text>
<text class="ax" x="1708.9" y="972.4" text-anchor="middle">2017</text>
<text class="ax" x="1774.53" y="972.4" text-anchor="middle">2018</text>
<text class="ax" x="1840.16" y="972.4" text-anchor="middle">2019</text>
<text class="ax" x="1905.79" y="972.4" text-anchor="middle">2020</text>
<path d="M1380.75 938.85V947.55M1446.38 938.85V947.55M1512.01 938.85V947.55M1577.64 938.85V947.55M1643.27 938.85V947.55M1708.9 938.85V947.55M1774.53 938.85V947.55M1840.16 938.85V947.55M1905.79 938.85V947.55" stroke="#333333" stroke-width="3" fill="none"/>
<text class="ti" style="font-size:32.6px" transform="translate(1024.4 1009.5) scale(0.947 1)" text-anchor="middle">Year</text>
<text class="ti" transform="translate(23.1 494.5) rotate(-90)" text-anchor="middle">Rc</text>
</svg></body></html>
